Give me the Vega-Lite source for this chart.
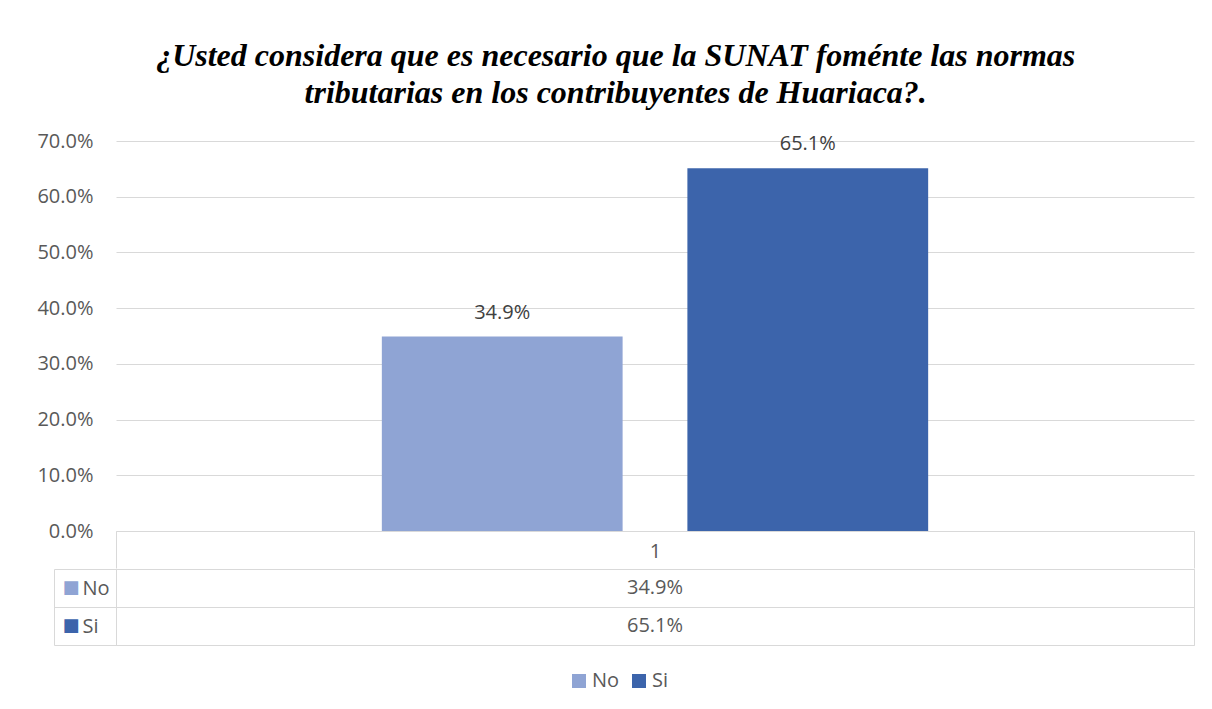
{
  "$schema": "https://vega.github.io/schema/vega-lite/v6.json",
  "padding": {"left": 36, "top": 40, "right": 17, "bottom": 60},
  "background": "white",
  "datasets": {
    "resp": [
      {"cat": "1", "serie": "No", "pct": 0.349},
      {"cat": "1", "serie": "Si", "pct": 0.651}
    ]
  },
  "data": {"name": "resp"},
  "title": {
    "text": ["¿Usted considera que es necesario que la SUNAT foménte las normas", "tributarias en los contribuyentes de Huariaca?."],
    "font": "Liberation Serif",
    "fontSize": 32,
    "fontWeight": "bold",
    "fontStyle": "italic",
    "color": "black",
    "lineHeight": 37,
    "anchor": "middle",
    "offset": 21
  },
  "spacing": -12,
  "config": {"view": {"stroke": null}},
  "vconcat": [
    {
      "width": 1078,
      "height": 390,
      "encoding": {
        "x": {
          "field": "cat", "type": "nominal",
          "scale": {"paddingInner": 0, "paddingOuter": 0},
          "axis": {
            "title": null, "labelAngle": 0, "domainColor": "#D9D9D9", "domainWidth": 1,
            "tickColor": "#D9D9D9", "tickBand": "extent", "tickSize": 37, "tickWidth": 1,
            "labelFont": "Open Sans", "labelFontSize": 20, "labelColor": "#595959",
            "labelPadding": -27, "labelBaseline": "top"
          }
        },
        "xOffset": {"field": "serie", "type": "nominal", "scale": {"paddingInner": 0.212, "paddingOuter": 0.87}},
        "y": {
          "field": "pct", "type": "quantitative",
          "scale": {"domain": [0, 0.7]},
          "axis": {
            "title": null, "values": [0, 0.1, 0.2, 0.3, 0.4, 0.5, 0.6, 0.7], "format": ".1%",
            "domain": false, "ticks": false, "grid": true, "gridColor": "#D9D9D9", "gridWidth": 1,
            "labelPadding": 23, "labelFont": "Open Sans", "labelFontSize": 20, "labelColor": "#595959"
          }
        }
      },
      "layer": [
        {
          "mark": {"type": "bar"},
          "encoding": {
            "color": {
              "field": "serie", "type": "nominal",
              "scale": {"domain": ["No", "Si"], "range": ["#8FA4D4", "#3C64AB"]},
              "legend": {
                "orient": "none", "legendX": 453, "legendY": 530, "direction": "horizontal",
                "title": null, "symbolType": "square", "symbolSize": 196, "symbolStrokeWidth": 0,
                "symbolOpacity": 1, "labelFont": "Open Sans", "labelFontSize": 20,
                "labelColor": "#595959", "columnPadding": 9, "labelOffset": 3, "padding": 0
              }
            }
          }
        },
        {
          "mark": {"type": "text", "baseline": "alphabetic", "dy": -18, "font": "Open Sans", "fontSize": 20, "color": "#404040"},
          "encoding": {"text": {"field": "pct", "type": "quantitative", "format": ".1%"}}
        }
      ]
    },
    {
      "width": 1078,
      "height": 76,
      "view": {"stroke": "#D9D9D9", "strokeWidth": 1},
      "encoding": {
        "x": {"field": "cat", "type": "nominal", "axis": null, "scale": {"paddingInner": 0, "paddingOuter": 0}}
      },
      "layer": [
        {
          "mark": {"type": "text", "font": "Open Sans", "fontSize": 20, "color": "#595959"},
          "encoding": {
            "text": {"field": "pct", "type": "quantitative", "format": ".1%"},
            "y": {
              "field": "serie", "type": "nominal",
              "scale": {"domain": ["No", "Si"], "paddingInner": 0, "paddingOuter": 0},
              "axis": {
                "orient": "left", "title": null, "ticks": true, "tickBand": "extent", "tickSize": 62,
                "tickColor": "#D9D9D9", "tickWidth": 1, "grid": true, "gridColor": "#D9D9D9", "gridWidth": 1,
                "domain": true, "domainColor": "#D9D9D9", "domainWidth": 1,
                "labelAlign": "left", "labelPadding": -28, "labelFont": "Open Sans", "labelFontSize": 20,
                "labelColor": "#595959"
              }
            }
          }
        },
        {
          "mark": {"type": "text", "opacity": 0},
          "encoding": {
            "text": {"field": "serie", "type": "nominal"},
            "y": {
              "field": "serie", "type": "nominal",
              "scale": {"domain": ["No", "Si"], "paddingInner": 0, "paddingOuter": 0},
              "axis": {
                "orient": "left", "title": null, "offset": 62, "ticks": false, "tickSize": 0, "labels": false,
                "grid": false, "domain": true, "domainColor": "#D9D9D9", "domainWidth": 1
              }
            }
          }
        },
        {
          "mark": {"type": "text", "opacity": 0},
          "encoding": {
            "text": {"field": "serie", "type": "nominal"},
            "y": {
              "field": "serie", "type": "nominal",
              "scale": {"domain": ["No", "Si"], "paddingInner": 0, "paddingOuter": 0},
              "axis": {
                "orient": "left", "title": null, "ticks": false, "tickSize": 0, "grid": false, "domain": false,
                "labelExpr": "'■'", "labelAlign": "left", "labelPadding": 54,
                "labelFont": "DejaVu Sans", "labelFontSize": 18,
                "labelColor": {"condition": {"test": "datum.value == 'No'", "value": "#8FA4D4"}, "value": "#3C64AB"}
              }
            }
          }
        }
      ],
      "resolve": {"axis": {"y": "independent"}}
    }
  ]
}
